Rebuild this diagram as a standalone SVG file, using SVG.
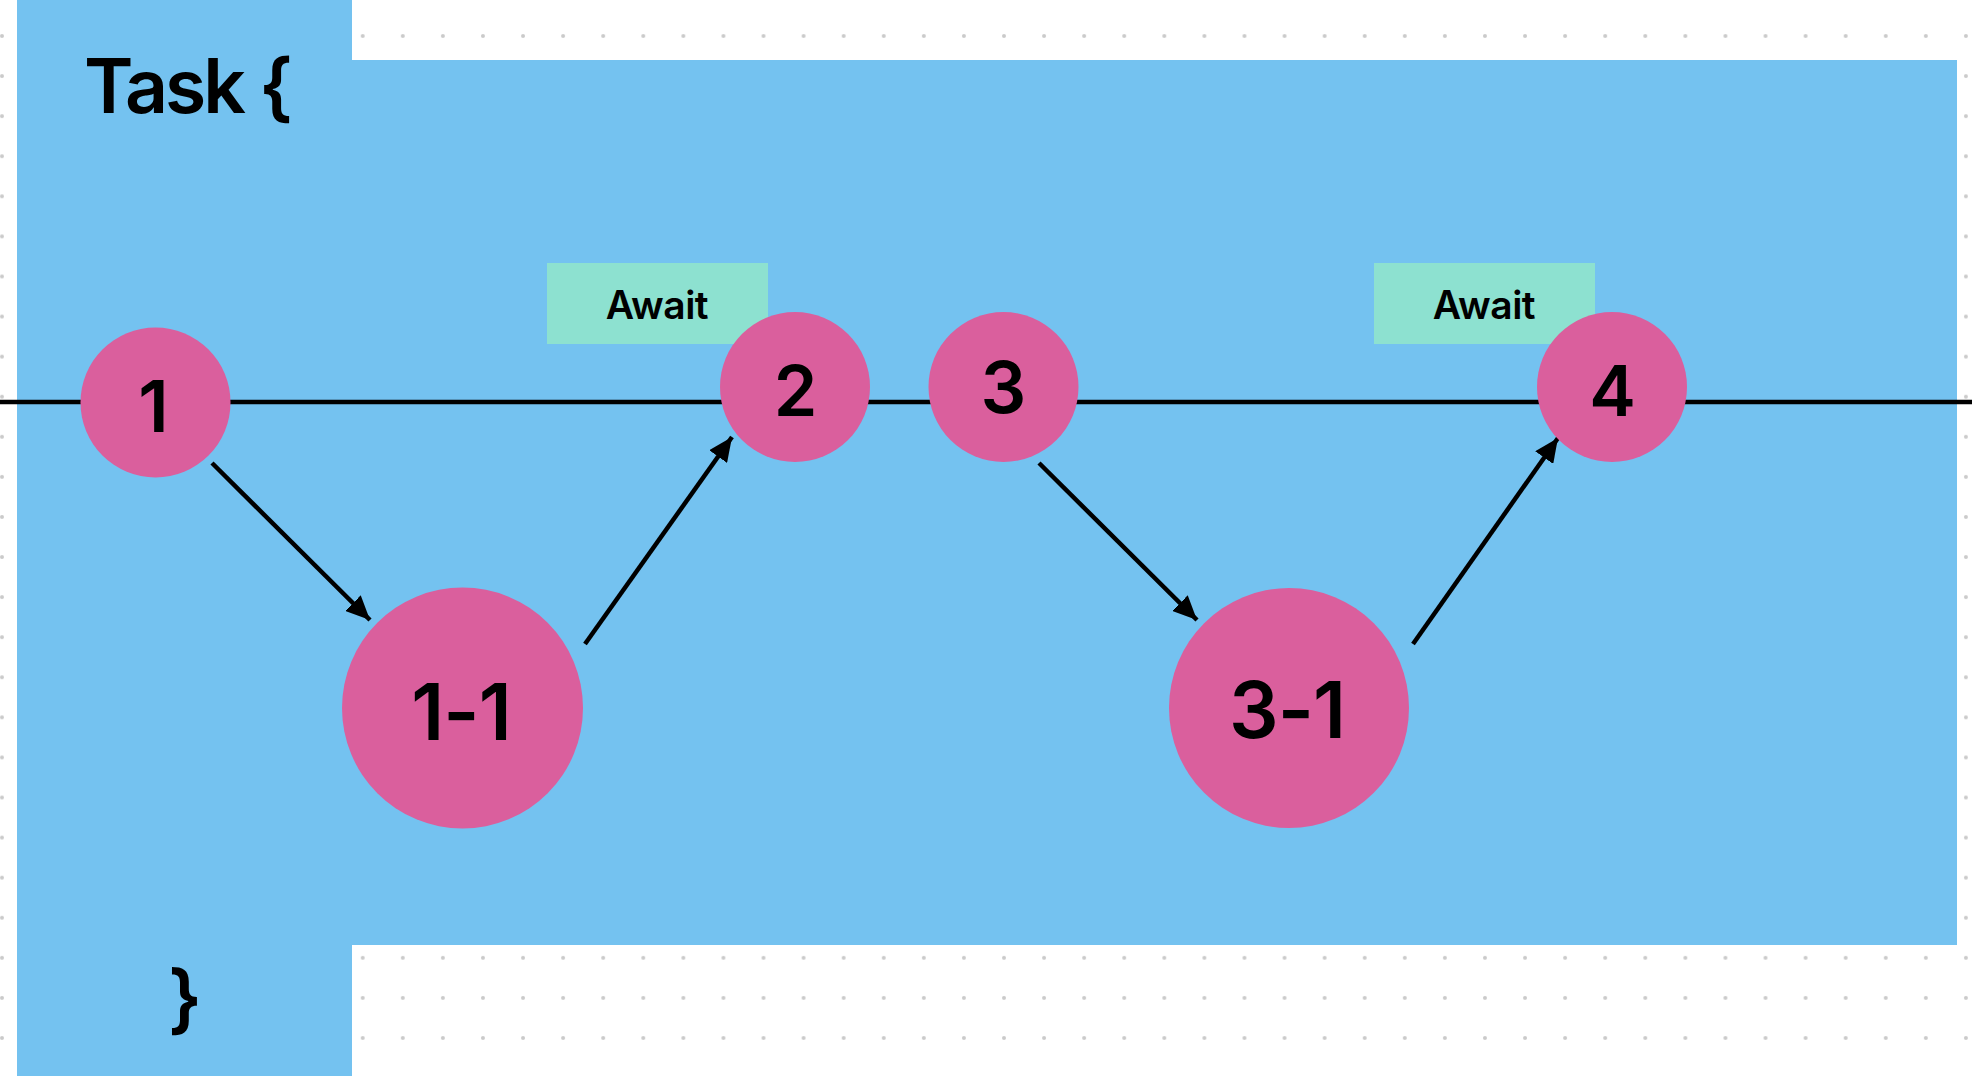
<svg xmlns="http://www.w3.org/2000/svg" width="1972" height="1076" viewBox="0 0 1972 1076">
  <style>
    .node { fill: #DA5F9D; }
    .num { font-family: Inter, "Liberation Sans", sans-serif; font-weight: 600; fill: #000; text-anchor: middle; letter-spacing: -1px; }
    .await-box { fill: #8DE1D0; }
    .await-txt { font-family: Inter, "Liberation Sans", sans-serif; font-weight: 600; font-size: 39px; fill: #000; text-anchor: middle; letter-spacing: -0.5px; }
    .code { font-family: Inter, "Liberation Sans", sans-serif; font-weight: 600; font-size: 75px; fill: #000; letter-spacing: -3px; }
    .conn { stroke: #000; stroke-width: 4.5; fill: none; }
  </style>
  <defs>
    <pattern id="dots" x="2" y="36" width="40.08" height="40.08" patternUnits="userSpaceOnUse">
      <circle cx="0" cy="0" r="2" fill="#CACACA"/>
      <circle cx="40.08" cy="0" r="2" fill="#CACACA"/>
      <circle cx="0" cy="40.08" r="2" fill="#CACACA"/>
      <circle cx="40.08" cy="40.08" r="2" fill="#CACACA"/>
    </pattern>
    <marker id="arrow" markerUnits="userSpaceOnUse" markerWidth="26" markerHeight="22" refX="24" refY="11" orient="auto">
      <path d="M0,0 L24,11 L0,22 Z" fill="#000"/>
    </marker>
  </defs>
  <rect width="1972" height="1076" fill="#FFFFFF"/>
  <rect width="1972" height="1076" fill="url(#dots)"/>
  <g id="task-block">
    <path d="M17,0 H352 V60 H1957 V945 H352 V1076 H17 Z" fill="#74C2F0"/>
    <text class="code" x="84" y="113">Task {</text>
    <text class="code" x="168" y="1025">}</text>
  </g>
  <g id="connectors">
    <line x1="0" y1="402" x2="1972" y2="402" stroke="#000" stroke-width="4.5"/>
    <line class="conn" x1="212" y1="463" x2="370" y2="620" marker-end="url(#arrow)"/>
    <line class="conn" x1="585" y1="644" x2="732" y2="437" marker-end="url(#arrow)"/>
    <line class="conn" x1="1039" y1="463" x2="1197" y2="620" marker-end="url(#arrow)"/>
    <line class="conn" x1="1413" y1="644" x2="1558" y2="438" marker-end="url(#arrow)"/>
  </g>
  <g id="node-1">
    <circle class="node" cx="155.5" cy="402.5" r="75"/>
    <text class="num" x="153" y="432" font-size="72">1</text>
  </g>
  <g id="node-1-1">
    <circle class="node" cx="462.5" cy="708" r="120.5"/>
    <text class="num" x="461" y="740" font-size="78">1-1</text>
  </g>
  <g id="await-1">
    <rect class="await-box" x="547" y="263" width="221" height="81"/>
    <text class="await-txt" x="657" y="319">Await</text>
  </g>
  <g id="node-2">
    <circle class="node" cx="795" cy="387" r="75"/>
    <text class="num" x="795" y="416" font-size="70">2</text>
  </g>
  <g id="node-3">
    <circle class="node" cx="1003.5" cy="387" r="75"/>
    <text class="num" x="1003" y="413" font-size="72">3</text>
  </g>
  <g id="node-3-1">
    <circle class="node" cx="1289" cy="708" r="120"/>
    <text class="num" x="1287" y="738" font-size="78">3-1</text>
  </g>
  <g id="await-2">
    <rect class="await-box" x="1374" y="263" width="221" height="81"/>
    <text class="await-txt" x="1484" y="319">Await</text>
  </g>
  <g id="node-4">
    <circle class="node" cx="1612" cy="387" r="75"/>
    <text class="num" x="1612" y="416" font-size="70">4</text>
  </g>
</svg>
